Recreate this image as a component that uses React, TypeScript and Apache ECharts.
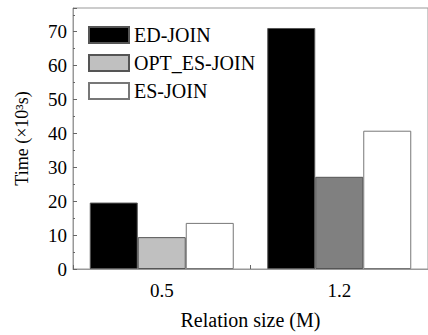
import React, { useEffect, useRef } from "react";
import * as echarts from "echarts";

const categories = ["0.5", "1.2"];
const seriesNames = ["ED-JOIN", "OPT_ES-JOIN", "ES-JOIN"];
const edJoin = [19.6, 71.1];
const optEsJoin = [9.4, 27.2];
const esJoin = [13.6, 40.8];
const optColors = ["#c0c0c0", "#808080"];

const FONT = "'Liberation Serif', 'Times New Roman', serif";

export default function App() {
  const ref = useRef<HTMLDivElement>(null);
  useEffect(() => {
    if (!ref.current) return;
    const chart = echarts.init(ref.current, undefined, { renderer: "svg" });
    const border = { borderColor: "#555", borderWidth: 1 };
    chart.setOption({
      animation: false,
      backgroundColor: "#fff",
      textStyle: { fontFamily: FONT, color: "#000" },
      grid: {
        left: 73,
        top: 8,
        right: -5,
        bottom: 63,
        show: true,
        borderColor: "#999",
        borderWidth: 1,
        backgroundColor: "transparent",
      },
      legend: {
        left: 88,
        top: 25,
        orient: "vertical",
        itemWidth: 40,
        itemHeight: 16,
        itemGap: 8,
        padding: 0,
        icon: "rect",
        textStyle: { fontFamily: FONT, fontSize: 20, color: "#000", padding: [0, 0, 0, 0] },
        data: seriesNames,
      },
      xAxis: [
        {
          type: "category",
          data: categories,
          boundaryGap: true,
          axisLine: { lineStyle: { color: "#999", width: 1 } },
          axisTick: { show: false },
          axisLabel: { fontFamily: FONT, fontSize: 19, color: "#000", margin: 12 },
          name: "Relation size (M)",
          nameLocation: "middle",
          nameGap: 41,
          nameTextStyle: { fontFamily: FONT, fontSize: 20, color: "#000" },
        },
        {
          type: "value",
          min: 0,
          max: 2,
          interval: 0.5,
          position: "bottom",
          axisLine: { show: false },
          axisLabel: { show: false },
          axisTick: { show: true, inside: true, length: 4, lineStyle: { color: "#666" } },
          splitLine: { show: false },
        },
      ],
      yAxis: {
        type: "value",
        min: 0,
        max: 77,
        interval: 10,
        axisLine: { show: true, lineStyle: { color: "#999", width: 1 } },
        axisTick: { show: true, inside: true, length: 4, lineStyle: { color: "#666" } },
        minorTick: { show: true, splitNumber: 2, length: 2, lineStyle: { color: "#666" } },
        splitLine: { show: false },
        axisLabel: {
          fontFamily: FONT,
          fontSize: 19,
          color: "#000",
          margin: 6,
          formatter: (v: number) => (v % 10 === 0 ? String(v) : ""),
        },
        name: "Time (×10³s)",
        nameLocation: "middle",
        nameGap: 42,
        nameTextStyle: { fontFamily: FONT, fontSize: 18, color: "#000" },
      },
      series: [
        {
          name: seriesNames[0],
          type: "bar",
          data: edJoin,
          barWidth: 48,
          barGap: "0%",
          itemStyle: { color: "#000", ...border },
        },
        {
          name: seriesNames[1],
          type: "bar",
          data: optEsJoin.map((v, i) => ({ value: v, itemStyle: { color: optColors[i] } })),
          barWidth: 48,
          barGap: "0%",
          itemStyle: { color: optColors[0], ...border },
        },
        {
          name: seriesNames[2],
          type: "bar",
          data: esJoin,
          barWidth: 48,
          barGap: "0%",
          itemStyle: { color: "#fff", borderColor: "#777", borderWidth: 1 },
        },
      ],
    });
    return () => chart.dispose();
  }, []);
  return <div ref={ref} style={{ width: 428, height: 335, position: "absolute", left: 0, top: 0 }} />;
}
